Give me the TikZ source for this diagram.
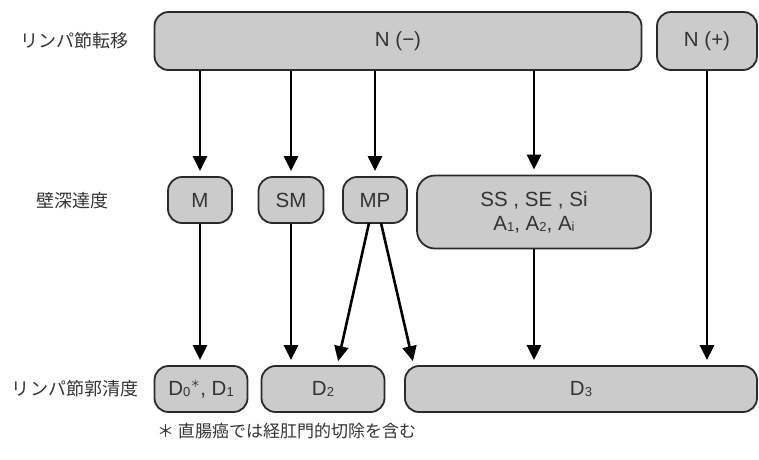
\documentclass[tikz,border=0pt]{standalone}
\usepackage{fontspec}
\setmainfont{Liberation Sans}
\newfontfamily\jp{Noto Sans CJK JP}
\usetikzlibrary{arrows.meta}
\definecolor{boxfill}{HTML}{CBCBCB}
\definecolor{ink}{HTML}{2A2A2A}
\definecolor{txt}{HTML}{333333}
\newcommand\mysub[1]{\raisebox{-0.1ex}{\fontsize{13}{13}\selectfont #1}}
\newcommand\mysup[1]{\raisebox{0.8ex}{\jp\fontsize{10}{10}\selectfont #1}}
\begin{document}
\begin{tikzpicture}[x=1pt,y=-1pt,
  box/.style={draw=ink, line width=1.8pt, fill=boxfill, rounded corners=14pt,
    inner sep=0pt, text=txt, font=\fontsize{20.5}{25}\selectfont, align=center},
  lab/.style={text=txt, font=\jp\fontsize{18}{20}\selectfont, inner sep=0pt},
  arr/.style={draw=black, line width=2.6pt, -{Triangle[width=14pt,length=15pt]}, shorten >=5pt}]
\useasboundingbox (0,0) rectangle (759,459);
% row labels
\node[lab] (l1) at (74,41) {リンパ節転移};
\node[lab] (l2) at (72,201) {壁深達度};
\node[lab] (l3) at (75,389) {リンパ節郭清度};
% top row
\node[box, minimum width=487pt, minimum height=58pt] (nm) at (398,41) {N (−)};
\node[box, minimum width=100pt, minimum height=58pt] (np) at (707,41) {N (+)};
% middle row
\node[box, minimum width=64pt, minimum height=46pt] (m) at (200,200) {M};
\node[box, minimum width=65pt, minimum height=46pt] (sm) at (291,200) {SM};
\node[box, minimum width=64pt, minimum height=46pt] (mp) at (375,200) {MP};
\node[box, minimum width=234pt, minimum height=73pt, rounded corners=18pt] (ss) at (534,212)
  {SS , SE , Si\\[-1pt]A\mysub{1}, A\mysub{2}, A\mysub{i}};
% bottom row
\node[box, minimum width=93pt, minimum height=46pt] (d0) at (201,389) {D\mysub{0}\mysup{＊}, D\mysub{1}};
\node[box, minimum width=123pt, minimum height=46pt] (d2) at (323,389) {D\mysub{2}};
\node[box, minimum width=352pt, minimum height=46pt] (d3) at (581,389) {D\mysub{3}};
% footnote
\node[lab, anchor=west, font=\jp\fontsize{17}{19}\selectfont] (fn) at (157,431) {＊ 直腸癌では経肛門的切除を含む};
% coordinates for slanted arrows
\coordinate (mpa) at (369,223);
\coordinate (mpb) at (381,223);
\coordinate (t2) at (337,366);
\coordinate (t3) at (414,366);
% arrows top -> middle
\draw[arr] (m.north |- nm.south) -- (m.north);
\draw[arr] (sm.north |- nm.south) -- (sm.north);
\draw[arr] (mp.north |- nm.south) -- (mp.north);
\draw[arr] (ss.north |- nm.south) -- (ss.north);
% middle -> bottom
\draw[arr] (m.south) -- (m.south |- d0.north);
\draw[arr] (sm.south) -- (sm.south |- d2.north);
\draw[arr] (mpa) -- (t2);
\draw[arr] (mpb) -- (t3);
\draw[arr] (ss.south) -- (ss.south |- d3.north);
\draw[arr] (np.south) -- (np.south |- d3.north);
\end{tikzpicture}
\end{document}
